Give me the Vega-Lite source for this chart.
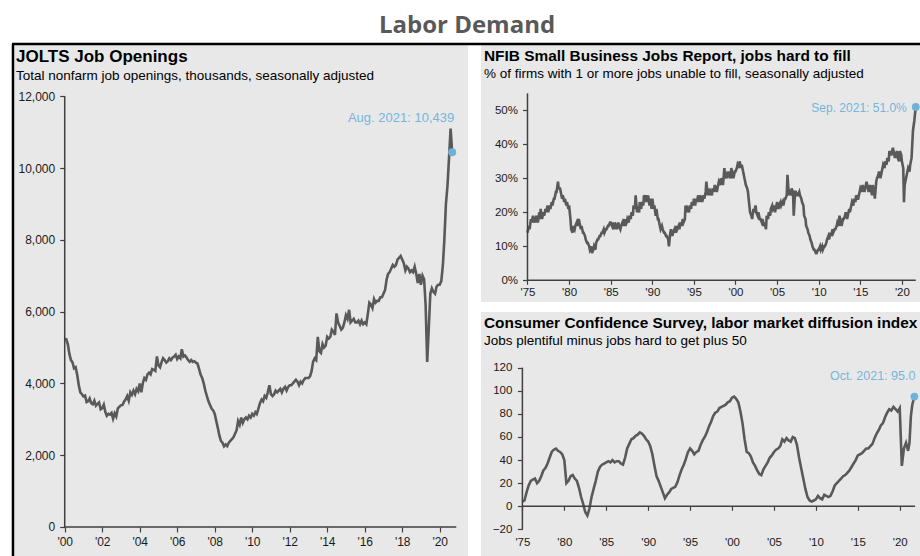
{
"$schema": "https://vega.github.io/schema/vega-lite/v6.json",
"padding": {"left": 10, "top": 13, "right": 0, "bottom": 0},
"background": "white",
"title": {"text": "Labor Demand", "anchor": "middle", "frame": "bounds", "font": "Open Sans", "fontSize": 24, "fontWeight": 700, "color": "#595959", "offset": 5},
"config": {
  "font": "Liberation Sans",
  "view": {"stroke": null},
  "axis": {"labelFont": "Liberation Sans", "labelColor": "#1a1a1a", "tickColor": "#404040", "tickWidth": 1.2, "domain": false, "grid": false, "labelFontSize": 11.5, "labelFlush": false, "labelOverlap": false, "labelBound": false, "tickCount": 40},
  "title": {"anchor": "start", "frame": "group", "font": "Liberation Sans", "fontWeight": "bold", "color": "#000000", "subtitleFont": "Liberation Sans", "subtitleColor": "#000000"}
},
"datasets": {
  "jolts": [
    {"d":"2000-12","v":5234},
    {"d":"2001-01","v":5230},{"d":"2001-02","v":5080},{"d":"2001-03","v":4830},{"d":"2001-04","v":4650},{"d":"2001-05","v":4590},{"d":"2001-06","v":4420},{"d":"2001-07","v":4450},{"d":"2001-08","v":4240},{"d":"2001-09","v":3950},{"d":"2001-10","v":3750},{"d":"2001-11","v":3700},{"d":"2001-12","v":3640},
    {"d":"2002-01","v":3660},{"d":"2002-02","v":3480},{"d":"2002-03","v":3500},{"d":"2002-04","v":3580},{"d":"2002-05","v":3450},{"d":"2002-06","v":3420},{"d":"2002-07","v":3520},{"d":"2002-08","v":3380},{"d":"2002-09","v":3430},{"d":"2002-10","v":3470},{"d":"2002-11","v":3280},{"d":"2002-12","v":3310},
    {"d":"2003-01","v":3410},{"d":"2003-02","v":3200},{"d":"2003-03","v":3100},{"d":"2003-04","v":3150},{"d":"2003-05","v":3130},{"d":"2003-06","v":3180},{"d":"2003-07","v":3020},{"d":"2003-08","v":3170},{"d":"2003-09","v":3080},{"d":"2003-10","v":3300},{"d":"2003-11","v":3350},{"d":"2003-12","v":3390},
    {"d":"2004-01","v":3400},{"d":"2004-02","v":3500},{"d":"2004-03","v":3550},{"d":"2004-04","v":3650},{"d":"2004-05","v":3520},{"d":"2004-06","v":3750},{"d":"2004-07","v":3680},{"d":"2004-08","v":3800},{"d":"2004-09","v":3700},{"d":"2004-10","v":3850},{"d":"2004-11","v":3780},{"d":"2004-12","v":4000},
    {"d":"2005-01","v":3750},{"d":"2005-02","v":4020},{"d":"2005-03","v":4150},{"d":"2005-04","v":4100},{"d":"2005-05","v":4250},{"d":"2005-06","v":4300},{"d":"2005-07","v":4250},{"d":"2005-08","v":4400},{"d":"2005-09","v":4380},{"d":"2005-10","v":4350},{"d":"2005-11","v":4750},{"d":"2005-12","v":4500},
    {"d":"2006-01","v":4450},{"d":"2006-02","v":4600},{"d":"2006-03","v":4700},{"d":"2006-04","v":4650},{"d":"2006-05","v":4580},{"d":"2006-06","v":4620},{"d":"2006-07","v":4700},{"d":"2006-08","v":4650},{"d":"2006-09","v":4720},{"d":"2006-10","v":4750},{"d":"2006-11","v":4800},{"d":"2006-12","v":4680},
    {"d":"2007-01","v":4750},{"d":"2007-02","v":4700},{"d":"2007-03","v":4950},{"d":"2007-04","v":4750},{"d":"2007-05","v":4780},{"d":"2007-06","v":4720},{"d":"2007-07","v":4650},{"d":"2007-08","v":4600},{"d":"2007-09","v":4650},{"d":"2007-10","v":4600},{"d":"2007-11","v":4620},{"d":"2007-12","v":4580},
    {"d":"2008-01","v":4550},{"d":"2008-02","v":4400},{"d":"2008-03","v":4250},{"d":"2008-04","v":4150},{"d":"2008-05","v":4000},{"d":"2008-06","v":3800},{"d":"2008-07","v":3650},{"d":"2008-08","v":3500},{"d":"2008-09","v":3400},{"d":"2008-10","v":3300},{"d":"2008-11","v":3250},{"d":"2008-12","v":3150},
    {"d":"2009-01","v":2950},{"d":"2009-02","v":2750},{"d":"2009-03","v":2550},{"d":"2009-04","v":2400},{"d":"2009-05","v":2350},{"d":"2009-06","v":2250},{"d":"2009-07","v":2300},{"d":"2009-08","v":2250},{"d":"2009-09","v":2350},{"d":"2009-10","v":2400},{"d":"2009-11","v":2450},{"d":"2009-12","v":2500},
    {"d":"2010-01","v":2600},{"d":"2010-02","v":2700},{"d":"2010-03","v":2950},{"d":"2010-04","v":2850},{"d":"2010-05","v":3050},{"d":"2010-06","v":2900},{"d":"2010-07","v":3000},{"d":"2010-08","v":3050},{"d":"2010-09","v":3000},{"d":"2010-10","v":3100},{"d":"2010-11","v":3050},{"d":"2010-12","v":3150},
    {"d":"2011-01","v":3100},{"d":"2011-02","v":3200},{"d":"2011-03","v":3150},{"d":"2011-04","v":3300},{"d":"2011-05","v":3450},{"d":"2011-06","v":3550},{"d":"2011-07","v":3500},{"d":"2011-08","v":3650},{"d":"2011-09","v":3600},{"d":"2011-10","v":3750},{"d":"2011-11","v":3950},{"d":"2011-12","v":3700},
    {"d":"2012-01","v":3650},{"d":"2012-02","v":3700},{"d":"2012-03","v":3800},{"d":"2012-04","v":3750},{"d":"2012-05","v":3800},{"d":"2012-06","v":3850},{"d":"2012-07","v":3750},{"d":"2012-08","v":3850},{"d":"2012-09","v":3900},{"d":"2012-10","v":3800},{"d":"2012-11","v":3900},{"d":"2012-12","v":3950},
    {"d":"2013-01","v":3950},{"d":"2013-02","v":4000},{"d":"2013-03","v":4050},{"d":"2013-04","v":4100},{"d":"2013-05","v":4050},{"d":"2013-06","v":3950},{"d":"2013-07","v":4050},{"d":"2013-08","v":4000},{"d":"2013-09","v":4100},{"d":"2013-10","v":4150},{"d":"2013-11","v":4150},{"d":"2013-12","v":4150},
    {"d":"2014-01","v":4200},{"d":"2014-02","v":4350},{"d":"2014-03","v":4600},{"d":"2014-04","v":4700},{"d":"2014-05","v":4650},{"d":"2014-06","v":5300},{"d":"2014-07","v":4900},{"d":"2014-08","v":4850},{"d":"2014-09","v":5100},{"d":"2014-10","v":5000},{"d":"2014-11","v":5050},{"d":"2014-12","v":5300},
    {"d":"2015-01","v":5250},{"d":"2015-02","v":5300},{"d":"2015-03","v":5500},{"d":"2015-04","v":5450},{"d":"2015-05","v":5350},{"d":"2015-06","v":5950},{"d":"2015-07","v":5700},{"d":"2015-08","v":5600},{"d":"2015-09","v":5500},{"d":"2015-10","v":5550},{"d":"2015-11","v":5700},{"d":"2015-12","v":5900},
    {"d":"2016-01","v":5800},{"d":"2016-02","v":6050},{"d":"2016-03","v":5700},{"d":"2016-04","v":5750},{"d":"2016-05","v":5800},{"d":"2016-06","v":5700},{"d":"2016-07","v":5700},{"d":"2016-08","v":5750},{"d":"2016-09","v":5650},{"d":"2016-10","v":5750},{"d":"2016-11","v":5650},{"d":"2016-12","v":5700},
    {"d":"2017-01","v":5650},{"d":"2017-02","v":5950},{"d":"2017-03","v":6250},{"d":"2017-04","v":6200},{"d":"2017-05","v":6100},{"d":"2017-06","v":6350},{"d":"2017-07","v":6250},{"d":"2017-08","v":6300},{"d":"2017-09","v":6300},{"d":"2017-10","v":6400},{"d":"2017-11","v":6400},{"d":"2017-12","v":6500},
    {"d":"2018-01","v":6600},{"d":"2018-02","v":6900},{"d":"2018-03","v":7050},{"d":"2018-04","v":7100},{"d":"2018-05","v":7200},{"d":"2018-06","v":7300},{"d":"2018-07","v":7250},{"d":"2018-08","v":7300},{"d":"2018-09","v":7450},{"d":"2018-10","v":7500},{"d":"2018-11","v":7550},{"d":"2018-12","v":7450},
    {"d":"2019-01","v":7350},{"d":"2019-02","v":7150},{"d":"2019-03","v":7250},{"d":"2019-04","v":7200},{"d":"2019-05","v":7100},{"d":"2019-06","v":7150},{"d":"2019-07","v":7100},{"d":"2019-08","v":7250},{"d":"2019-09","v":7050},{"d":"2019-10","v":6800},{"d":"2019-11","v":7050},{"d":"2019-12","v":6750},
    {"d":"2020-01","v":7000},{"d":"2020-02","v":6900},{"d":"2020-03","v":6200},{"d":"2020-04","v":4600},{"d":"2020-05","v":5500},{"d":"2020-06","v":6500},{"d":"2020-07","v":6650},{"d":"2020-08","v":6550},{"d":"2020-09","v":6500},{"d":"2020-10","v":6700},{"d":"2020-11","v":6750},{"d":"2020-12","v":6750},
    {"d":"2021-01","v":6850},{"d":"2021-02","v":7300},{"d":"2021-03","v":8000},{"d":"2021-04","v":9000},{"d":"2021-05","v":9500},{"d":"2021-06","v":10300},{"d":"2021-07","v":11100},{"d":"2021-08","v":10439}
  ],
  "nfib": [
    {"d":"1975-01","v":14},{"d":"1975-03","v":16},{"d":"1975-04","v":15},{"d":"1975-06","v":18},{"d":"1975-07","v":17},{"d":"1975-09","v":19},{"d":"1975-10","v":17},{"d":"1975-12","v":18},
    {"d":"1976-01","v":17},{"d":"1976-03","v":19},{"d":"1976-04","v":17},{"d":"1976-06","v":20},{"d":"1976-07","v":18},{"d":"1976-08","v":21},{"d":"1976-10","v":18},{"d":"1976-12","v":20},
    {"d":"1977-01","v":19},{"d":"1977-03","v":21},{"d":"1977-04","v":20},{"d":"1977-06","v":22},{"d":"1977-07","v":20},{"d":"1977-09","v":22},{"d":"1977-10","v":21},{"d":"1977-12","v":23},
    {"d":"1978-01","v":22},{"d":"1978-03","v":24},{"d":"1978-04","v":24},{"d":"1978-06","v":26},{"d":"1978-07","v":26},{"d":"1978-09","v":29},{"d":"1978-10","v":27},{"d":"1978-12","v":27},
    {"d":"1979-01","v":26},{"d":"1979-03","v":24},{"d":"1979-04","v":25},{"d":"1979-06","v":23},{"d":"1979-07","v":24},{"d":"1979-09","v":22},{"d":"1979-10","v":23},{"d":"1979-12","v":21},
    {"d":"1980-01","v":22},{"d":"1980-03","v":18},{"d":"1980-04","v":15},{"d":"1980-06","v":14},{"d":"1980-07","v":16},{"d":"1980-09","v":15},{"d":"1980-10","v":16},{"d":"1980-12","v":17},
    {"d":"1981-01","v":16},{"d":"1981-03","v":18},{"d":"1981-04","v":17},{"d":"1981-06","v":15},{"d":"1981-07","v":16},{"d":"1981-09","v":14},{"d":"1981-10","v":14},{"d":"1981-12","v":13},
    {"d":"1982-01","v":12},{"d":"1982-03","v":11},{"d":"1982-04","v":11},{"d":"1982-06","v":10},{"d":"1982-07","v":9},{"d":"1982-09","v":10},{"d":"1982-10","v":8},{"d":"1982-12","v":9},
    {"d":"1983-01","v":10},{"d":"1983-03","v":9},{"d":"1983-04","v":11},{"d":"1983-06","v":12},{"d":"1983-07","v":12},{"d":"1983-09","v":13},{"d":"1983-10","v":13},{"d":"1983-12","v":14},
    {"d":"1984-01","v":14},{"d":"1984-03","v":15},{"d":"1984-04","v":14},{"d":"1984-06","v":15},{"d":"1984-07","v":15},{"d":"1984-09","v":16},{"d":"1984-10","v":16},{"d":"1984-12","v":17},
    {"d":"1985-01","v":17},{"d":"1985-03","v":16},{"d":"1985-04","v":17},{"d":"1985-06","v":15},{"d":"1985-07","v":17},{"d":"1985-09","v":16},{"d":"1985-10","v":15},{"d":"1985-12","v":17},
    {"d":"1986-01","v":16},{"d":"1986-03","v":15},{"d":"1986-04","v":16},{"d":"1986-06","v":17},{"d":"1986-07","v":16},{"d":"1986-09","v":18},{"d":"1986-10","v":16},{"d":"1986-12","v":17},
    {"d":"1987-01","v":18},{"d":"1987-03","v":17},{"d":"1987-04","v":19},{"d":"1987-06","v":18},{"d":"1987-07","v":20},{"d":"1987-09","v":19},{"d":"1987-10","v":22},{"d":"1987-12","v":21},
    {"d":"1988-01","v":25},{"d":"1988-03","v":20},{"d":"1988-04","v":21},{"d":"1988-06","v":20},{"d":"1988-07","v":23},{"d":"1988-09","v":21},{"d":"1988-10","v":23},{"d":"1988-12","v":22},
    {"d":"1989-01","v":25},{"d":"1989-03","v":24},{"d":"1989-04","v":25},{"d":"1989-06","v":23},{"d":"1989-07","v":25},{"d":"1989-09","v":22},{"d":"1989-10","v":24},{"d":"1989-12","v":21},
    {"d":"1990-01","v":24},{"d":"1990-03","v":21},{"d":"1990-04","v":22},{"d":"1990-06","v":19},{"d":"1990-07","v":21},{"d":"1990-09","v":18},{"d":"1990-10","v":18},{"d":"1990-12","v":16},
    {"d":"1991-01","v":15},{"d":"1991-03","v":16},{"d":"1991-04","v":15},{"d":"1991-06","v":14},{"d":"1991-07","v":14},{"d":"1991-09","v":13},{"d":"1991-10","v":13},{"d":"1991-12","v":12},
    {"d":"1992-01","v":10},{"d":"1992-03","v":14},{"d":"1992-04","v":15},{"d":"1992-06","v":13},{"d":"1992-07","v":14},{"d":"1992-09","v":15},{"d":"1992-10","v":14},{"d":"1992-12","v":16},
    {"d":"1993-01","v":15},{"d":"1993-03","v":16},{"d":"1993-04","v":15},{"d":"1993-06","v":17},{"d":"1993-07","v":16},{"d":"1993-09","v":18},{"d":"1993-10","v":17},{"d":"1993-12","v":18},
    {"d":"1994-01","v":22},{"d":"1994-03","v":20},{"d":"1994-04","v":21},{"d":"1994-06","v":20},{"d":"1994-07","v":22},{"d":"1994-09","v":21},{"d":"1994-10","v":23},{"d":"1994-12","v":22},
    {"d":"1995-01","v":24},{"d":"1995-03","v":22},{"d":"1995-04","v":24},{"d":"1995-06","v":23},{"d":"1995-07","v":25},{"d":"1995-09","v":23},{"d":"1995-10","v":25},{"d":"1995-12","v":24},
    {"d":"1996-01","v":23},{"d":"1996-03","v":25},{"d":"1996-04","v":24},{"d":"1996-06","v":26},{"d":"1996-07","v":29},{"d":"1996-09","v":25},{"d":"1996-10","v":27},{"d":"1996-12","v":25},
    {"d":"1997-01","v":26},{"d":"1997-03","v":25},{"d":"1997-04","v":27},{"d":"1997-06","v":26},{"d":"1997-07","v":28},{"d":"1997-09","v":27},{"d":"1997-10","v":26},{"d":"1997-12","v":28},
    {"d":"1998-01","v":29},{"d":"1998-03","v":28},{"d":"1998-04","v":30},{"d":"1998-06","v":29},{"d":"1998-07","v":28},{"d":"1998-09","v":33},{"d":"1998-10","v":30},{"d":"1998-12","v":31},
    {"d":"1999-01","v":30},{"d":"1999-03","v":32},{"d":"1999-04","v":31},{"d":"1999-06","v":30},{"d":"1999-07","v":33},{"d":"1999-09","v":31},{"d":"1999-10","v":30},{"d":"1999-12","v":32},
    {"d":"2000-01","v":32},{"d":"2000-03","v":33},{"d":"2000-04","v":34},{"d":"2000-06","v":33},{"d":"2000-07","v":35},{"d":"2000-09","v":33},{"d":"2000-10","v":34},{"d":"2000-12","v":32},
    {"d":"2001-01","v":31},{"d":"2001-03","v":29},{"d":"2001-04","v":28},{"d":"2001-06","v":27},{"d":"2001-07","v":26},{"d":"2001-09","v":22},{"d":"2001-10","v":20},{"d":"2001-12","v":19},
    {"d":"2002-01","v":18},{"d":"2002-03","v":21},{"d":"2002-04","v":20},{"d":"2002-06","v":22},{"d":"2002-07","v":20},{"d":"2002-09","v":19},{"d":"2002-10","v":20},{"d":"2002-12","v":18},
    {"d":"2003-01","v":18},{"d":"2003-03","v":17},{"d":"2003-04","v":18},{"d":"2003-06","v":16},{"d":"2003-07","v":17},{"d":"2003-09","v":15},{"d":"2003-10","v":19},{"d":"2003-12","v":18},
    {"d":"2004-01","v":20},{"d":"2004-03","v":19},{"d":"2004-04","v":21},{"d":"2004-06","v":22},{"d":"2004-07","v":21},{"d":"2004-09","v":22},{"d":"2004-10","v":20},{"d":"2004-12","v":22},
    {"d":"2005-01","v":23},{"d":"2005-03","v":21},{"d":"2005-04","v":22},{"d":"2005-06","v":23},{"d":"2005-07","v":22},{"d":"2005-09","v":23},{"d":"2005-10","v":22},{"d":"2005-12","v":24},
    {"d":"2006-01","v":24},{"d":"2006-03","v":25},{"d":"2006-04","v":31},{"d":"2006-06","v":25},{"d":"2006-07","v":26},{"d":"2006-09","v":25},{"d":"2006-10","v":27},{"d":"2006-12","v":26},
    {"d":"2007-01","v":19},{"d":"2007-03","v":26},{"d":"2007-04","v":26},{"d":"2007-06","v":25},{"d":"2007-07","v":25},{"d":"2007-09","v":26},{"d":"2007-10","v":25},{"d":"2007-12","v":24},
    {"d":"2008-01","v":23},{"d":"2008-03","v":22},{"d":"2008-04","v":19},{"d":"2008-06","v":18},{"d":"2008-07","v":16},{"d":"2008-09","v":15},{"d":"2008-10","v":14},{"d":"2008-12","v":13},
    {"d":"2009-01","v":12},{"d":"2009-03","v":11},{"d":"2009-04","v":10},{"d":"2009-06","v":9},{"d":"2009-07","v":9},{"d":"2009-09","v":8},{"d":"2009-10","v":8},{"d":"2009-12","v":9},
    {"d":"2010-01","v":9},{"d":"2010-03","v":10},{"d":"2010-04","v":9},{"d":"2010-06","v":10},{"d":"2010-07","v":9},{"d":"2010-09","v":10},{"d":"2010-10","v":10},{"d":"2010-12","v":11},
    {"d":"2011-01","v":12},{"d":"2011-03","v":13},{"d":"2011-04","v":12},{"d":"2011-06","v":14},{"d":"2011-07","v":13},{"d":"2011-09","v":15},{"d":"2011-10","v":14},{"d":"2011-12","v":15},
    {"d":"2012-01","v":15},{"d":"2012-03","v":16},{"d":"2012-04","v":17},{"d":"2012-06","v":16},{"d":"2012-07","v":19},{"d":"2012-09","v":17},{"d":"2012-10","v":16},{"d":"2012-12","v":18},
    {"d":"2013-01","v":18},{"d":"2013-03","v":19},{"d":"2013-04","v":20},{"d":"2013-06","v":18},{"d":"2013-07","v":19},{"d":"2013-09","v":21},{"d":"2013-10","v":20},{"d":"2013-12","v":22},
    {"d":"2014-01","v":23},{"d":"2014-03","v":22},{"d":"2014-04","v":24},{"d":"2014-06","v":23},{"d":"2014-07","v":25},{"d":"2014-09","v":24},{"d":"2014-10","v":24},{"d":"2014-12","v":26},
    {"d":"2015-01","v":27},{"d":"2015-03","v":26},{"d":"2015-04","v":28},{"d":"2015-06","v":27},{"d":"2015-07","v":26},{"d":"2015-09","v":28},{"d":"2015-10","v":29},{"d":"2015-12","v":27},
    {"d":"2016-01","v":26},{"d":"2016-03","v":28},{"d":"2016-04","v":27},{"d":"2016-06","v":25},{"d":"2016-07","v":28},{"d":"2016-09","v":26},{"d":"2016-10","v":24},{"d":"2016-12","v":29},
    {"d":"2017-01","v":30},{"d":"2017-03","v":31},{"d":"2017-04","v":32},{"d":"2017-06","v":30},{"d":"2017-07","v":31},{"d":"2017-09","v":33},{"d":"2017-10","v":34},{"d":"2017-12","v":33},
    {"d":"2018-01","v":35},{"d":"2018-03","v":34},{"d":"2018-04","v":36},{"d":"2018-06","v":35},{"d":"2018-07","v":38},{"d":"2018-09","v":37},{"d":"2018-10","v":37},{"d":"2018-12","v":39},
    {"d":"2019-01","v":38},{"d":"2019-03","v":36},{"d":"2019-04","v":37},{"d":"2019-06","v":38},{"d":"2019-07","v":36},{"d":"2019-09","v":35},{"d":"2019-10","v":38},{"d":"2019-12","v":37},
    {"d":"2020-01","v":35},{"d":"2020-03","v":33},{"d":"2020-04","v":23},{"d":"2020-05","v":28},{"d":"2020-07","v":30},{"d":"2020-09","v":32},{"d":"2020-10","v":33},{"d":"2020-12","v":32},
    {"d":"2021-01","v":34},{"d":"2021-03","v":36},{"d":"2021-05","v":44},{"d":"2021-07","v":47},{"d":"2021-08","v":49},{"d":"2021-09","v":51}
  ],
  "cc": [
    {"d":"1975-01","v":4},{"d":"1975-04","v":5},{"d":"1975-07","v":12},{"d":"1975-10","v":18},
    {"d":"1976-01","v":22},{"d":"1976-04","v":23},{"d":"1976-07","v":24},{"d":"1976-10","v":20},
    {"d":"1977-01","v":22},{"d":"1977-04","v":26},{"d":"1977-07","v":31},{"d":"1977-10","v":33},
    {"d":"1978-01","v":37},{"d":"1978-04","v":42},{"d":"1978-07","v":47},{"d":"1978-10","v":49},
    {"d":"1979-01","v":50},{"d":"1979-04","v":48},{"d":"1979-07","v":47},{"d":"1979-10","v":45},
    {"d":"1980-01","v":40},{"d":"1980-04","v":20},{"d":"1980-07","v":22},{"d":"1980-10","v":26},
    {"d":"1981-01","v":27},{"d":"1981-04","v":24},{"d":"1981-07","v":22},{"d":"1981-10","v":16},
    {"d":"1982-01","v":8},{"d":"1982-04","v":2},{"d":"1982-07","v":-5},{"d":"1982-10","v":-8},
    {"d":"1983-01","v":-2},{"d":"1983-04","v":8},{"d":"1983-07","v":15},{"d":"1983-10","v":22},
    {"d":"1984-01","v":30},{"d":"1984-04","v":34},{"d":"1984-07","v":36},{"d":"1984-10","v":37},
    {"d":"1985-01","v":38},{"d":"1985-04","v":39},{"d":"1985-07","v":38},{"d":"1985-10","v":40},
    {"d":"1986-01","v":38},{"d":"1986-04","v":39},{"d":"1986-07","v":39},{"d":"1986-10","v":37},
    {"d":"1987-01","v":36},{"d":"1987-04","v":42},{"d":"1987-07","v":50},{"d":"1987-10","v":54},
    {"d":"1988-01","v":58},{"d":"1988-04","v":59},{"d":"1988-07","v":61},{"d":"1988-10","v":62},
    {"d":"1989-01","v":64},{"d":"1989-04","v":63},{"d":"1989-07","v":61},{"d":"1989-10","v":58},
    {"d":"1990-01","v":56},{"d":"1990-04","v":52},{"d":"1990-07","v":45},{"d":"1990-10","v":35},
    {"d":"1991-01","v":26},{"d":"1991-04","v":22},{"d":"1991-07","v":17},{"d":"1991-10","v":12},
    {"d":"1992-01","v":7},{"d":"1992-04","v":10},{"d":"1992-07","v":12},{"d":"1992-10","v":15},
    {"d":"1993-01","v":16},{"d":"1993-04","v":17},{"d":"1993-07","v":21},{"d":"1993-10","v":27},
    {"d":"1994-01","v":32},{"d":"1994-04","v":36},{"d":"1994-07","v":41},{"d":"1994-10","v":47},
    {"d":"1995-01","v":50},{"d":"1995-04","v":48},{"d":"1995-07","v":45},{"d":"1995-10","v":47},
    {"d":"1996-01","v":48},{"d":"1996-04","v":53},{"d":"1996-07","v":57},{"d":"1996-10","v":60},
    {"d":"1997-01","v":64},{"d":"1997-04","v":69},{"d":"1997-07","v":73},{"d":"1997-10","v":78},
    {"d":"1998-01","v":81},{"d":"1998-04","v":82},{"d":"1998-07","v":85},{"d":"1998-10","v":86},
    {"d":"1999-01","v":87},{"d":"1999-04","v":88},{"d":"1999-07","v":90},{"d":"1999-10","v":91},
    {"d":"2000-01","v":94},{"d":"2000-04","v":95},{"d":"2000-07","v":93},{"d":"2000-10","v":90},
    {"d":"2001-01","v":82},{"d":"2001-04","v":72},{"d":"2001-07","v":58},{"d":"2001-10","v":47},
    {"d":"2002-01","v":46},{"d":"2002-04","v":43},{"d":"2002-07","v":38},{"d":"2002-10","v":35},
    {"d":"2003-01","v":31},{"d":"2003-04","v":28},{"d":"2003-07","v":27},{"d":"2003-10","v":32},
    {"d":"2004-01","v":35},{"d":"2004-04","v":38},{"d":"2004-07","v":42},{"d":"2004-10","v":44},
    {"d":"2005-01","v":47},{"d":"2005-04","v":49},{"d":"2005-07","v":50},{"d":"2005-10","v":52},
    {"d":"2006-01","v":58},{"d":"2006-04","v":56},{"d":"2006-07","v":59},{"d":"2006-10","v":57},
    {"d":"2007-01","v":56},{"d":"2007-04","v":60},{"d":"2007-07","v":59},{"d":"2007-10","v":53},
    {"d":"2008-01","v":42},{"d":"2008-04","v":33},{"d":"2008-07","v":24},{"d":"2008-10","v":15},
    {"d":"2009-01","v":8},{"d":"2009-04","v":5},{"d":"2009-07","v":4},{"d":"2009-10","v":5},
    {"d":"2010-01","v":6},{"d":"2010-04","v":9},{"d":"2010-07","v":7},{"d":"2010-10","v":6},
    {"d":"2011-01","v":10},{"d":"2011-04","v":9},{"d":"2011-07","v":8},{"d":"2011-10","v":9},
    {"d":"2012-01","v":13},{"d":"2012-04","v":18},{"d":"2012-07","v":20},{"d":"2012-10","v":22},
    {"d":"2013-01","v":24},{"d":"2013-04","v":26},{"d":"2013-07","v":27},{"d":"2013-10","v":29},
    {"d":"2014-01","v":31},{"d":"2014-04","v":34},{"d":"2014-07","v":37},{"d":"2014-10","v":40},
    {"d":"2015-01","v":44},{"d":"2015-04","v":45},{"d":"2015-07","v":46},{"d":"2015-10","v":48},
    {"d":"2016-01","v":50},{"d":"2016-04","v":50},{"d":"2016-07","v":52},{"d":"2016-10","v":54},
    {"d":"2017-01","v":59},{"d":"2017-04","v":63},{"d":"2017-07","v":66},{"d":"2017-10","v":70},
    {"d":"2018-01","v":72},{"d":"2018-04","v":77},{"d":"2018-07","v":81},{"d":"2018-10","v":84},
    {"d":"2019-01","v":83},{"d":"2019-04","v":86},{"d":"2019-07","v":84},{"d":"2019-10","v":82},
    {"d":"2020-01","v":85},{"d":"2020-04","v":35},{"d":"2020-07","v":50},{"d":"2020-10","v":55},
    {"d":"2021-01","v":48},{"d":"2021-03","v":55},{"d":"2021-05","v":78},{"d":"2021-07","v":88},{"d":"2021-10","v":95}
  ],
  "joltsLast": [{"d":"2021-08","v":10439,"label":"Aug. 2021: 10,439"}],
  "nfibLast": [{"d":"2021-09","v":51,"label":"Sep. 2021: 51.0%"}],
  "ccLast": [{"d":"2021-10","v":95,"label":"Oct. 2021: 95.0"}]
},
"bounds": "flush",
"spacing": 13,
"hconcat": [
  {
    "width": 456, "height": 514,
    "view": {"fill": "#e8e8e8", "stroke": null},
    "title": {"text": "JOLTS Job Openings", "subtitle": "Total nonfarm job openings, thousands, seasonally adjusted", "offset": -41, "dx": 4, "fontSize": 17, "subtitleFontSize": 13.5, "subtitlePadding": 3},
    "layer": [
      {"data": {"name": "jolts"}, "mark": {"type": "line", "color": "#595959", "strokeWidth": 2.6},
       "encoding": {
         "x": {"field": "d", "type": "temporal", "scale": {"type": "utc", "domain": [{"year":1998,"month":2,"date":8,"utc":true},{"year":2022,"month":6,"date":5,"utc":true}]},
               "axis": {"title": null, "orient": "bottom", "offset": -31, "tickSize": 5, "labelPadding": 4, "labelFontSize": 12,
                        "values": [{"year":2000,"month":12,"date":1,"utc":true},{"year":2002,"month":12,"date":1,"utc":true},{"year":2004,"month":12,"date":1,"utc":true},{"year":2006,"month":12,"date":1,"utc":true},{"year":2008,"month":12,"date":1,"utc":true},{"year":2010,"month":12,"date":1,"utc":true},{"year":2012,"month":12,"date":1,"utc":true},{"year":2014,"month":12,"date":1,"utc":true},{"year":2016,"month":12,"date":1,"utc":true},{"year":2018,"month":12,"date":1,"utc":true},{"year":2020,"month":12,"date":1,"utc":true}],
                        "labelExpr": "\"'\" + utcFormat(datum.value, '%y')"}},
         "y": {"field": "v", "type": "quantitative", "scale": {"domain": [-864, 13457], "nice": false, "zero": false},
               "axis": {"title": null, "orient": "left", "offset": -52.7, "tickSize": 5, "labelPadding": 5, "labelFontSize": 12, "values": [0,2000,4000,6000,8000,10000,12000], "labelExpr": "format(datum.value, ',')"}}
       }},
      {"data": {"values": [{}]}, "mark": {"type": "rule", "color": "#404040", "strokeWidth": 1.5},
       "encoding": {"x": {"datum": {"year":2000,"month":12,"date":1,"utc":true}, "type": "temporal"}, "y": {"datum": 0}, "y2": {"datum": 12000}}},
      {"data": {"values": [{}]}, "mark": {"type": "rule", "color": "#404040", "strokeWidth": 1.5},
       "encoding": {"x": {"datum": {"year":2000,"month":12,"date":1,"utc":true}, "type": "temporal"}, "x2": {"datum": {"year":2021,"month":10,"date":20,"utc":true}}, "y": {"datum": 0}}},
      {"data": {"values": [{}]}, "mark": {"type": "rule", "color": "#000000", "strokeWidth": 2.5},
       "encoding": {"x": {"datum": {"year":1998,"month":2,"date":27,"utc":true}, "type": "temporal"}, "y": {"datum": -864}, "y2": {"datum": 13457}}},
      {"data": {"values": [{}]}, "mark": {"type": "rule", "color": "#000000", "strokeWidth": 2.5},
       "encoding": {"x": {"datum": {"year":1998,"month":2,"date":8,"utc":true}, "type": "temporal"}, "x2": {"datum": {"year":2023,"month":2,"date":13,"utc":true}}, "y": {"datum": 13457}}},
      {"data": {"name": "joltsLast"}, "mark": {"type": "point", "filled": true, "opacity": 1, "color": "#6db3d8", "size": 65},
       "encoding": {"x": {"field": "d", "type": "temporal"}, "y": {"field": "v", "type": "quantitative"}}},
      {"data": {"name": "joltsLast"}, "mark": {"type": "text", "align": "right", "baseline": "middle", "dx": 2, "dy": -34, "fontSize": 13, "color": "#74b6dc", "font": "Liberation Sans"},
       "encoding": {"x": {"field": "d", "type": "temporal"}, "y": {"field": "v", "type": "quantitative"}, "text": {"field": "label"}}}
    ]
  },
  {
    "bounds": "flush",
    "spacing": 10,
    "vconcat": [
      {
        "width": 441, "height": 258,
        "view": {"fill": "#e8e8e8", "stroke": null},
        "title": {"text": "NFIB Small Business Jobs Report, jobs hard to fill", "subtitle": "% of firms with 1 or more jobs unable to fill, seasonally adjusted", "offset": -38, "dx": 3, "fontSize": 15.4, "subtitleFontSize": 13.5, "subtitlePadding": 3},
        "layer": [
          {"data": {"name": "nfib"}, "mark": {"type": "line", "color": "#595959", "strokeWidth": 2.6},
           "encoding": {
             "x": {"field": "d", "type": "temporal", "scale": {"type": "utc", "domain": [{"year":1969,"month":5,"date":31,"utc":true},{"year":2022,"month":6,"date":2,"utc":true}]},
                   "axis": {"title": null, "orient": "bottom", "offset": -21.7, "tickSize": 4, "labelPadding": 2,
                            "values": [{"year":1975,"month":1,"date":1,"utc":true},{"year":1980,"month":1,"date":1,"utc":true},{"year":1985,"month":1,"date":1,"utc":true},{"year":1990,"month":1,"date":1,"utc":true},{"year":1995,"month":1,"date":1,"utc":true},{"year":2000,"month":1,"date":1,"utc":true},{"year":2005,"month":1,"date":1,"utc":true},{"year":2010,"month":1,"date":1,"utc":true},{"year":2015,"month":1,"date":1,"utc":true},{"year":2020,"month":1,"date":1,"utc":true}],
                            "labelExpr": "\"'\" + utcFormat(datum.value, '%y')"}},
             "y": {"field": "v", "type": "quantitative", "scale": {"domain": [-6.38, 69.5], "nice": false, "zero": false},
                   "axis": {"title": null, "orient": "left", "offset": -46.5, "tickSize": 5, "labelPadding": 5, "values": [0,10,20,30,40,50], "labelExpr": "datum.value + '%'"}}
           }},
          {"data": {"values": [{}]}, "mark": {"type": "rule", "color": "#404040", "strokeWidth": 1.5},
           "encoding": {"x": {"datum": {"year":1975,"month":1,"date":1,"utc":true}, "type": "temporal"}, "y": {"datum": 0}, "y2": {"datum": 55}}},
          {"data": {"values": [{}]}, "mark": {"type": "rule", "color": "#404040", "strokeWidth": 1.5},
           "encoding": {"x": {"datum": {"year":1975,"month":1,"date":1,"utc":true}, "type": "temporal"}, "x2": {"datum": {"year":2021,"month":9,"date":1,"utc":true}}, "y": {"datum": 0}}},
          {"data": {"values": [{}]}, "mark": {"type": "rule", "color": "#000000", "strokeWidth": 2.5},
           "encoding": {"x": {"datum": {"year":1969,"month":5,"date":31,"utc":true}, "type": "temporal"}, "x2": {"datum": {"year":2022,"month":6,"date":2,"utc":true}}, "y": {"datum": 69.5}}},
          {"data": {"name": "nfibLast"}, "mark": {"type": "point", "filled": true, "opacity": 1, "color": "#6db3d8", "size": 60},
           "encoding": {"x": {"field": "d", "type": "temporal"}, "y": {"field": "v", "type": "quantitative"}}},
          {"data": {"name": "nfibLast"}, "mark": {"type": "text", "align": "right", "baseline": "middle", "dx": -9, "dy": 1, "fontSize": 12, "color": "#74b6dc", "font": "Liberation Sans"},
           "encoding": {"x": {"field": "d", "type": "temporal"}, "y": {"field": "v", "type": "quantitative"}, "text": {"field": "label"}}}
        ]
      },
      {
        "width": 441, "height": 246,
        "view": {"fill": "#e8e8e8", "stroke": null},
        "title": {"text": "Consumer Confidence Survey, labor market diffusion index", "subtitle": "Jobs plentiful minus jobs hard to get plus 50", "offset": -35.5, "dx": 3, "fontSize": 15.4, "subtitleFontSize": 13.5, "subtitlePadding": 3},
        "layer": [
          {"data": {"name": "cc"}, "mark": {"type": "line", "color": "#595959", "strokeWidth": 2.6},
           "encoding": {
             "x": {"field": "d", "type": "temporal", "scale": {"type": "utc", "domain": [{"year":1970,"month":1,"date":24,"utc":true},{"year":2022,"month":8,"date":28,"utc":true}]},
                   "axis": {"title": null, "orient": "bottom", "offset": -51.7, "tickSize": 4, "labelPadding": 26,
                            "values": [{"year":1975,"month":1,"date":1,"utc":true},{"year":1980,"month":1,"date":1,"utc":true},{"year":1985,"month":1,"date":1,"utc":true},{"year":1990,"month":1,"date":1,"utc":true},{"year":1995,"month":1,"date":1,"utc":true},{"year":2000,"month":1,"date":1,"utc":true},{"year":2005,"month":1,"date":1,"utc":true},{"year":2010,"month":1,"date":1,"utc":true},{"year":2015,"month":1,"date":1,"utc":true},{"year":2020,"month":1,"date":1,"utc":true}],
                            "labelExpr": "\"'\" + utcFormat(datum.value, '%y')"}},
             "y": {"field": "v", "type": "quantitative", "scale": {"domain": [-44.8, 168.2], "nice": false, "zero": false},
                   "axis": {"title": null, "orient": "left", "offset": -41.4, "tickSize": 5, "labelPadding": 5.5, "tickCount": 40, "values": [-20,0,20,40,60,80,100,120]}}
           }},
          {"data": {"values": [{}]}, "mark": {"type": "rule", "color": "#404040", "strokeWidth": 1.5},
           "encoding": {"x": {"datum": {"year":1975,"month":1,"date":1,"utc":true}, "type": "temporal"}, "y": {"datum": -20}, "y2": {"datum": 120}}},
          {"data": {"values": [{}]}, "mark": {"type": "rule", "color": "#404040", "strokeWidth": 1.5},
           "encoding": {"x": {"datum": {"year":1975,"month":1,"date":1,"utc":true}, "type": "temporal"}, "x2": {"datum": {"year":2021,"month":11,"date":1,"utc":true}}, "y": {"datum": 0}}},
          {"data": {"name": "ccLast"}, "mark": {"type": "point", "filled": true, "opacity": 1, "color": "#6db3d8", "size": 60},
           "encoding": {"x": {"field": "d", "type": "temporal"}, "y": {"field": "v", "type": "quantitative"}}},
          {"data": {"name": "ccLast"}, "mark": {"type": "text", "align": "right", "baseline": "middle", "dx": 1, "dy": -21, "fontSize": 12.5, "color": "#74b6dc", "font": "Liberation Sans"},
           "encoding": {"x": {"field": "d", "type": "temporal"}, "y": {"field": "v", "type": "quantitative"}, "text": {"field": "label"}}}
        ]
      }
    ]
  }
]
}
